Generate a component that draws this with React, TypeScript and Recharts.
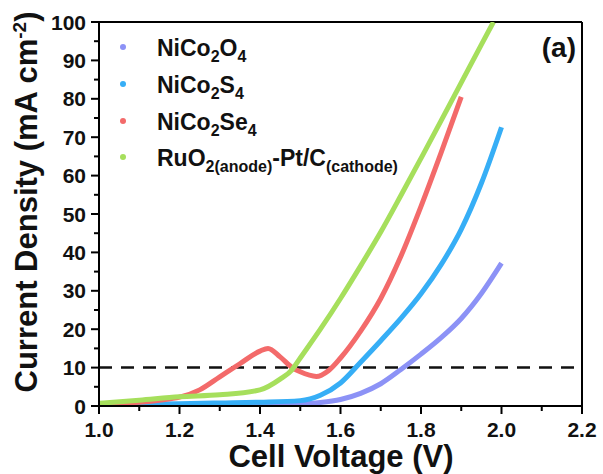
import React from 'react';
import { LineChart, Line, XAxis, YAxis, ReferenceLine, Customized } from 'recharts';

const FONT = '"Liberation Sans", Arial, sans-serif';

// NiCo2O4
const oxideV = [1.0, 1.1, 1.2, 1.3, 1.4, 1.5, 1.55, 1.6, 1.65, 1.7, 1.75, 1.8, 1.85, 1.9, 1.95, 2.0];
const oxideJ = [0.1, 0.1, 0.15, 0.2, 0.3, 0.5, 0.9, 1.7, 3.3, 5.8, 9.5, 13.5, 17.8, 22.8, 29.3, 37.2];
// NiCo2S4
const sulfideV = [1.0, 1.1, 1.2, 1.3, 1.4, 1.5, 1.55, 1.6, 1.65, 1.7, 1.75, 1.8, 1.85, 1.9, 1.95, 2.0];
const sulfideJ = [0.4, 0.5, 0.6, 0.8, 1.0, 1.4, 2.8, 6.0, 11.4, 17, 22.8, 29.2, 36.8, 46, 58, 72.6];
// NiCo2Se4
const selenideV = [1.0, 1.1, 1.15, 1.2, 1.25, 1.3, 1.35, 1.4, 1.42, 1.45, 1.48, 1.5, 1.54, 1.57, 1.6, 1.65, 1.7, 1.75, 1.8, 1.85, 1.9];
const selenideJ = [0.5, 1.0, 1.5, 2.3, 4.2, 7.6, 11, 14.3, 15, 12.8, 10, 8.9, 7.7, 9.2, 12.5, 19.5, 28, 39, 52, 66, 80.5];
// RuO2-Pt/C
const nobleV = [1.0, 1.1, 1.2, 1.3, 1.4, 1.45, 1.48, 1.5, 1.55, 1.6, 1.65, 1.7, 1.75, 1.8, 1.85, 1.9, 1.95, 1.98];
const nobleJ = [0.7, 1.5, 2.4, 2.9, 4.2, 7.0, 9.5, 12.5, 20, 28, 36.5, 45.3, 54.8, 64.5, 74.3, 84.2, 94.1, 100];

const xTicks = [1.0, 1.1, 1.2, 1.3, 1.4, 1.5, 1.6, 1.7, 1.8, 1.9, 2.0, 2.1, 2.2];
const yTicks = [0, 5, 10, 15, 20, 25, 30, 35, 40, 45, 50, 55, 60, 65, 70, 75, 80, 85, 90, 95, 100];

const seriesColors = ['#8c92f6', '#36aef6', '#f36a6a', '#a6df5c'];
// legend label parts: [text, isSub]
const legendLabels: [string, boolean][][] = [
  [['NiCo', false], ['2', true], ['O', false], ['4', true]],
  [['NiCo', false], ['2', true], ['S', false], ['4', true]],
  [['NiCo', false], ['2', true], ['Se', false], ['4', true]],
  [['RuO', false], ['2(anode)', true], ['-Pt/C', false], ['(cathode)', true]],
];

const toData = (v: number[], j: number[]) => v.map((x, i) => ({ v: x, j: j[i] }));

const XTick = (props: any) => {
  const { x, y, payload } = props;
  const val = payload.value as number;
  const major = Math.round(val * 10) % 2 === 0;
  return (
    <g>
      <line x1={x} x2={x} y1={y} y2={y + (major ? 8 : 5)} stroke="#000" strokeWidth={2} />
      {major && (
        <text x={x} y={y + 31} textAnchor="middle" fontFamily={FONT} fontWeight="bold" fontSize={21} fill="#111">
          {val.toFixed(1)}
        </text>
      )}
    </g>
  );
};

const YTick = (props: any) => {
  const { x, y, payload } = props;
  const val = payload.value as number;
  const major = Math.round(val) % 10 === 0;
  return (
    <g>
      <line x1={x} x2={x - (major ? 8 : 5)} y1={y} y2={y} stroke="#000" strokeWidth={2} />
      {major && (
        <text x={x - 13} y={y + 7.5} textAnchor="end" fontFamily={FONT} fontWeight="bold" fontSize={21} fill="#111">
          {val}
        </text>
      )}
    </g>
  );
};

const Overlay = () => {
  const rowY = [56, 93, 130, 166];
  return (
    <g fontFamily={FONT} fontWeight="bold" fill="#111">
      {legendLabels.map((parts, i) => (
        <g key={i}>
          <circle cx={123} cy={rowY[i] - 9} r={3} fill={seriesColors[i]} />
          <text x={157} y={rowY[i]} fontSize={23}>
            {parts.map(([t, sub], k) => {
              const prevSub = k > 0 && parts[k - 1][1];
              const dy = sub ? 6 : prevSub ? -6 : 0;
              return (
                <tspan key={k} dy={dy} fontSize={sub ? 16 : 23}>
                  {t}
                </tspan>
              );
            })}
          </text>
        </g>
      ))}
      <text x={576} y={57} textAnchor="end" fontSize={28}>(a)</text>
      <text x={341} y={467} textAnchor="middle" fontSize={31}>Cell Voltage (V)</text>
      <text transform="translate(37,202) rotate(-90)" textAnchor="middle" fontSize={31}>
        Current Density (mA cm<tspan dy={-11} fontSize={19}>-2</tspan><tspan dy={11}>)</tspan>
      </text>
    </g>
  );
};

export default function App() {
  return (
    <div style={{ position: 'absolute', left: 0, top: 0, background: '#fff' }}>
      <LineChart width={603} height={474} margin={{ top: 22, right: 21, bottom: 0, left: 0 }}>
        <XAxis
          type="number"
          dataKey="v"
          domain={[1.0, 2.2]}
          ticks={xTicks}
          interval={0}
          height={68}
          tickSize={0}
          tickMargin={0}
          tick={<XTick />}
          axisLine={{ stroke: '#000', strokeWidth: 2 }}
          allowDataOverflow
        />
        <YAxis
          type="number"
          domain={[0, 100]}
          ticks={yTicks}
          interval={0}
          width={99}
          tickSize={0}
          tickMargin={0}
          tick={<YTick />}
          axisLine={{ stroke: '#000', strokeWidth: 2 }}
          allowDataOverflow
        />
        <ReferenceLine y={100} stroke="#000" strokeWidth={2} />
        <ReferenceLine x={2.2} stroke="#000" strokeWidth={2} />
        <ReferenceLine y={10} stroke="#111" strokeWidth={2.5} strokeDasharray="13 9" />
        <Line data={toData(oxideV, oxideJ)} dataKey="j" type="monotone" stroke={seriesColors[0]} strokeWidth={5} dot={false} isAnimationActive={false} />
        <Line data={toData(sulfideV, sulfideJ)} dataKey="j" type="monotone" stroke={seriesColors[1]} strokeWidth={5} dot={false} isAnimationActive={false} />
        <Line data={toData(selenideV, selenideJ)} dataKey="j" type="monotone" stroke={seriesColors[2]} strokeWidth={5} dot={false} isAnimationActive={false} />
        <Line data={toData(nobleV, nobleJ)} dataKey="j" type="monotone" stroke={seriesColors[3]} strokeWidth={5} dot={false} isAnimationActive={false} />
        <Customized component={Overlay} />
      </LineChart>
    </div>
  );
}
